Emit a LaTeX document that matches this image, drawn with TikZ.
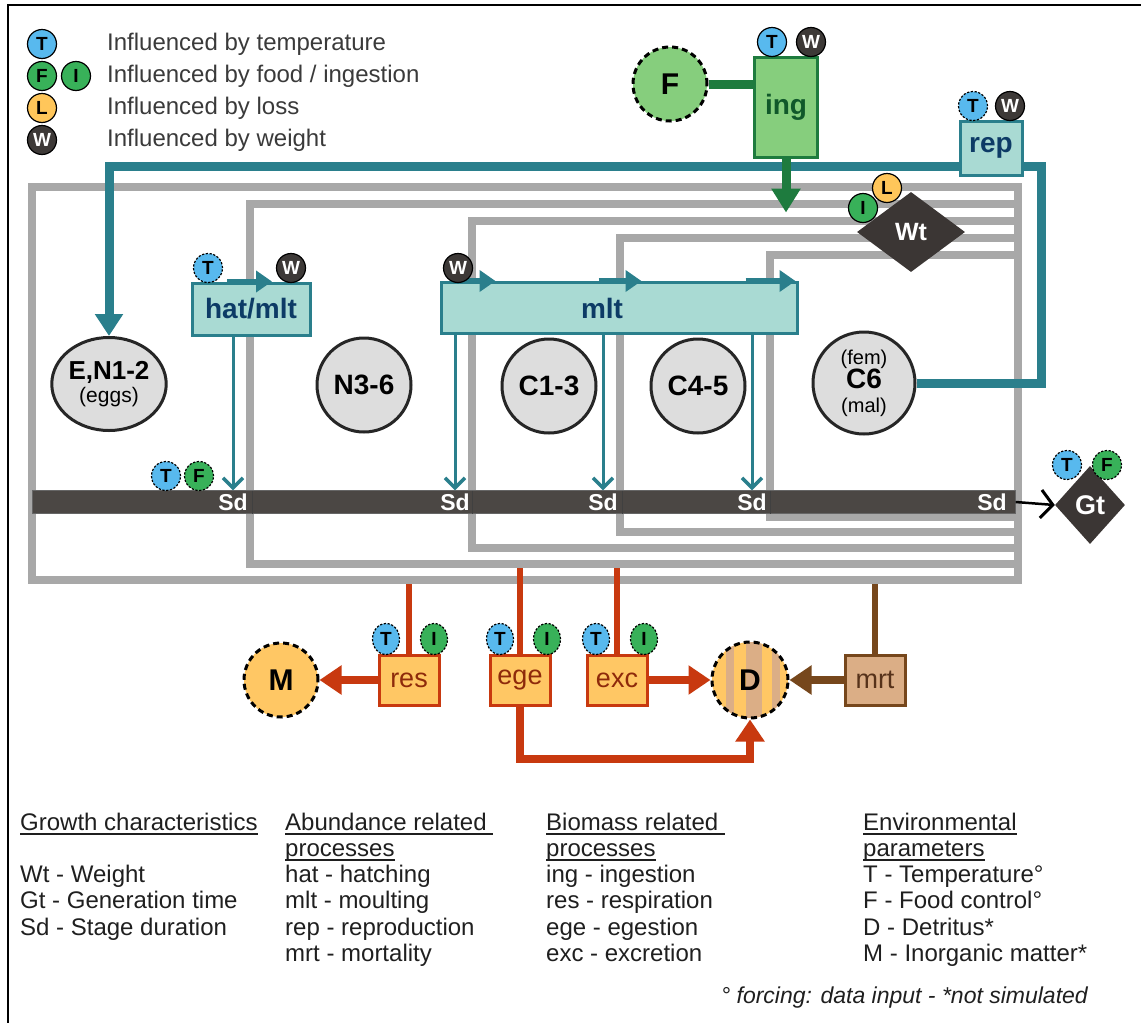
\documentclass[tikz,border=0pt]{standalone}
\usepackage{fontspec}
\setmainfont{Liberation Sans}
\usetikzlibrary{arrows.meta,shapes.geometric}
\definecolor{tealline}{HTML}{2A7F8C}
\definecolor{tealfill}{HTML}{A9DAD3}
\definecolor{navytext}{HTML}{0D3B66}
\definecolor{greenline}{HTML}{1E7B3E}
\definecolor{greenfill}{HTML}{86CE7D}
\definecolor{greentext}{HTML}{10582A}
\definecolor{graypipe}{HTML}{A8A8A8}
\definecolor{sdgray}{HTML}{4B4744}
\definecolor{darkdiamond}{HTML}{3B3634}
\definecolor{stagefill}{HTML}{DDDDDD}
\definecolor{orangefill}{HTML}{FFC764}
\definecolor{redline}{HTML}{C8390F}
\definecolor{redtext}{HTML}{8E2A0B}
\definecolor{tanfill}{HTML}{DBAE86}
\definecolor{brownline}{HTML}{76471C}
\definecolor{browntext}{HTML}{56321A}
\definecolor{badgeblue}{HTML}{58B9EE}
\definecolor{badgegreen}{HTML}{38B159}
\definecolor{badgeorange}{HTML}{FFC65A}
\definecolor{badgegray}{HTML}{3D3937}
\definecolor{legendtext}{HTML}{3A3A3A}
\newcommand{\pxfont}[1]{\fontsize{#1}{#1}\selectfont}
\newcommand{\headul}[1]{\setbox0=\hbox{#1}\rlap{\vrule height -3pt depth 5pt width \wd0}\box0}

\begin{document}
\begin{tikzpicture}[x=1pt,y=-1pt,
  badge/.style={circle,draw=black,line width=1.2,inner sep=0,minimum size=29,
    font=\bfseries\pxfont{19}},
  tbadge/.style={badge,fill=badgeblue},
  fbadge/.style={badge,fill=badgegreen},
  lbadge/.style={badge,fill=badgeorange},
  wbadge/.style={badge,fill=badgegray,text=white},
  forced/.style={dash pattern=on 2.2pt off 1.6pt},
  tall/.style={ellipse,minimum width=27,minimum height=31},
  stage/.style={circle,draw=black!85,line width=3,fill=stagefill,inner sep=0,
    minimum size=94,align=center,font=\bfseries\pxfont{28}},
  tealbox/.style={rectangle,draw=tealline,line width=3,fill=tealfill,
    text=navytext,inner sep=0,font=\bfseries\pxfont{28}},
  ingbox/.style={rectangle,draw=greenline,line width=3,fill=greenfill,
    text=greentext,inner sep=0,font=\bfseries\pxfont{28}},
  procbox/.style={rectangle,draw=redline,line width=3,fill=orangefill,text=redtext,
    minimum width=60,minimum height=50,inner sep=0,font=\pxfont{27}},
  unknown/.style={circle,draw=black,line width=3,dash pattern=on 6pt off 4pt,
    inner sep=0,font=\bfseries\pxfont{30}},
  massdiamond/.style={diamond,fill=darkdiamond,inner sep=0,text=white,
    font=\bfseries\pxfont{25}},
  sdbarbox/.style={rectangle,fill=sdgray,draw=black!60,line width=0.6,inner sep=0},
  sdlabel/.style={inner sep=0,minimum height=23,text=white,font=\bfseries\pxfont{23}},
  pipe/.style={draw=graypipe,line width=8},
  repline/.style={tealline,line width=9,-{Triangle[length=22,width=27]}},
  stagearrow/.style={tealline,line width=6,-{Triangle[length=16,width=21]}},
  sdarrow/.style={tealline,line width=3,-{Straight Barb[length=10,width=20,line width=3.5]}},
  lossfeed/.style={redline,line width=6},
  mortfeed/.style={brownline,line width=6},
  lossarrow/.style={redline,line width=8,-{Triangle[length=22,width=28]}},
  mortarrow/.style={brownline,line width=8,-{Triangle[length=22,width=28]}},
  keytext/.style={anchor=west,inner sep=0,text=legendtext,font=\pxfont{24}},
  keyline/.style={anchor=base west,inner sep=0,text=black!88,font=\pxfont{24}}]

  \useasboundingbox (0,0) rectangle (1141,1023);
  \draw[line width=1.5] (8,1023) -- (8,5) -- (1141,5);

  % legend
  \node[tbadge] (keyT) at (42,44) {T};
  \node[fbadge] (keyF) at (42,76) {F};
  \node[fbadge] (keyI) at (76,76) {I};
  \node[lbadge] (keyL) at (42,108) {L};
  \node[wbadge] (keyW) at (42,140) {W};
  \node[keytext] (keyTtext) at (107,44) {Influenced by temperature};
  \node[keytext] (keyFtext) at (107,76) {Influenced by food / ingestion};
  \node[keytext] (keyLtext) at (107,108) {Influenced by loss};
  \node[keytext] (keyWtext) at (107,140) {Influenced by weight};

  % stage compartments
  \foreach \l/\t/\b in {32/187/580,250/204/564,472/221/548,620/238/532,770/255/517}
    \draw[pipe] (\l,\t) rectangle (1018,\b);

  % stage duration bar
  \node[sdbarbox,minimum width=983,minimum height=23,anchor=west] (sdbar) at (32,502) {};
  \foreach \x in {252,472,622,770}
    \draw[black!75,line width=0.8] (\x,490.5) -- (\x,513.5);
  \node[sdlabel] (sdA) at (233,502) {Sd};
  \node[sdlabel] (sdB) at (455,502) {Sd};
  \node[sdlabel] (sdC) at (603,502) {Sd};
  \node[sdlabel] (sdD) at (752,502) {Sd};
  \node[sdlabel] (sdE) at (992,502) {Sd};

  % stages
  \node[stage,ellipse,minimum width=108,minimum height=93,font=\bfseries\pxfont{26}] (eggs) at (109,384)
    {E,N1-2\\[-3pt]{\mdseries\pxfont{21}(eggs)}};
  \node[stage] (n36) at (364,385) {N3-6};
  \node[stage] (c13) at (549,386) {C1-3};
  \node[stage] (c45) at (698,386) {C4-5};
  \node[stage,minimum size=102] (c6) at (864,383)
    {{\mdseries\pxfont{20}(fem)}\\[-4pt]C6\\[-4pt]{\mdseries\pxfont{20}(mal)}};

  % reproduction loop
  \coordinate (repcorner) at (1041,166);
  \draw[repline] (c6.east) -| (repcorner) -| (eggs.north);

  % processes
  \node[tealbox,minimum width=118,minimum height=52] (hatmlt) at (251,309) {hat/mlt};
  \node[tealbox,minimum width=356,minimum height=51] (mlt) at (619,308) {\hspace*{-34pt}mlt};
  \node[tealbox,minimum width=62,minimum height=54] (rep) at (991,148) {rep};
  \node[ingbox,minimum width=63,minimum height=100] (ing) at (786,107) {ing};
  \node[unknown,fill=greenfill,minimum size=74] (food) at (670,84) {F};
  \node[massdiamond,minimum width=108,minimum height=80] (wt) at (911,232) {Wt};
  \node[massdiamond,minimum width=70,minimum height=78,font=\bfseries\pxfont{27}] (gt) at (1090,505) {Gt};

  \draw[greenline,line width=9] (food.east) -- (food.east -| ing.west);
  \draw[greenline,line width=9,-{Triangle[length=24,width=28]}] (ing.south) -- ++(0,54);

  \draw[stagearrow] ([xshift=-24]hatmlt.north) -- ([xshift=21]hatmlt.north);
  \foreach \a/\b in {11/56,159/202,306/356}
    \draw[stagearrow] ([xshift=\a]mlt.north west) -- ([xshift=\b]mlt.north west);

  \draw[sdarrow] (hatmlt.south -| sdA) -- (sdA.north);
  \draw[sdarrow] (mlt.south -| sdB) -- (sdB.north);
  \draw[sdarrow] (mlt.south -| sdC) -- (sdC.north);
  \draw[sdarrow] (mlt.south -| sdD) -- (sdD.north);
  \draw[black,line width=2.5,-{Straight Barb[length=12,width=28,line width=3]}] (sdbar.east) -- (gt.west);

  % losses
  \coordinate (outerfloor) at (0,584);
  \coordinate (innerfloor) at (0,568);
  \node[procbox] (res) at (409,680) {res};
  \node[procbox] (ege) at (520,680) {ege};
  \node[procbox] (exc) at (617,680) {exc};
  \node[procbox,draw=brownline,fill=tanfill,text=browntext] (mrt) at (875,680) {mrt};
  \node[unknown,fill=orangefill,minimum size=74] (matter) at (281,680) {M};
  \node[unknown,minimum size=76,path picture={
      \fill[orangefill] (path picture bounding box.south west) rectangle (path picture bounding box.north east);
      \foreach \a/\b in {-24/-16,-4/12,22/30}
        \fill[tanfill] ([xshift=\a]path picture bounding box.south) rectangle ([xshift=\b]path picture bounding box.north);}]
    (detritus) at (750,680) {D};

  \draw[lossfeed] (res.north) -- (res.north |- outerfloor);
  \draw[lossfeed] (ege.north) -- (ege.north |- innerfloor);
  \draw[lossfeed] (exc.north) -- (exc.north |- innerfloor);
  \draw[mortfeed] (mrt.north) -- (mrt.north |- outerfloor);
  \draw[lossarrow] (res) -- (matter);
  \draw[lossarrow] (exc) -- (detritus);
  \draw[mortarrow] (mrt) -- (detritus);
  \draw[lossarrow] (ege.south) -- ++(0,52) -| (detritus.south);

  % influence badges
  \node[tbadge] (ingT) at (772,42) {T};
  \node[wbadge] (ingW) at (811,42) {W};
  \node[tbadge,forced] (repT) at (973,106) {T};
  \node[wbadge] (repW) at (1010,106) {W};
  \node[fbadge] (wtI) at (863,208) {I};
  \node[lbadge] (wtL) at (887,188) {L};
  \node[tbadge,forced] (hatT) at (208,268) {T};
  \node[wbadge] (hatW) at (291,268) {W};
  \node[wbadge] (mltW) at (458,268) {W};
  \node[tbadge,forced] (sdT) at (166,476) {T};
  \node[fbadge,forced] (sdF) at (199,476) {F};
  \node[tbadge,forced] (gtT) at (1067,465) {T};
  \node[fbadge,forced] (gtF) at (1107,465) {F};
  \node[tbadge,forced,tall] (resT) at (386,639) {T};
  \node[fbadge,forced,tall] (resI) at (434,639) {I};
  \node[tbadge,forced,tall] (egeT) at (500,639) {T};
  \node[fbadge,forced,tall] (egeI) at (547,639) {I};
  \node[tbadge,forced,tall] (excT) at (596,639) {T};
  \node[fbadge,forced,tall] (excI) at (644,639) {I};

  % key to abbreviations
  \node[keyline] (growth0) at (20,830) {\headul{Growth characteristics}};
  \foreach \txt [count=\i from 2] in {Wt - Weight,Gt - Generation time,Sd - Stage duration}
    \node[keyline] (growth\i) at (20,830+26.3*\i) {\txt};
  \node[keyline] (abund0) at (285,830) {\headul{Abundance related }};
  \node[keyline] (abund1) at (285,856.3) {\headul{processes}};
  \foreach \txt [count=\i from 2] in {hat - hatching,mlt - moulting,rep - reproduction,mrt - mortality}
    \node[keyline] (abund\i) at (285,830+26.3*\i) {\txt};
  \node[keyline] (biom0) at (546,830) {\headul{Biomass related }};
  \node[keyline] (biom1) at (546,856.3) {\headul{processes}};
  \foreach \txt [count=\i from 2] in {ing - ingestion,res - respiration,ege - egestion,exc - excretion}
    \node[keyline] (biom\i) at (546,830+26.3*\i) {\txt};
  \node[keyline] (env0) at (863,830) {\headul{Environmental}};
  \node[keyline] (env1) at (863,856.3) {\headul{parameters}};
  \foreach \txt [count=\i from 2] in {T - Temperature°,F - Food control°,D - Detritus*,M - Inorganic matter*}
    \node[keyline] (env\i) at (863,830+26.3*\i) {\txt};
  \node[anchor=base east,inner sep=0,text=black!88,font=\itshape\pxfont{23}] (note) at (1088,1003)
    {° forcing: data input - *not simulated};
\end{tikzpicture}
\end{document}
